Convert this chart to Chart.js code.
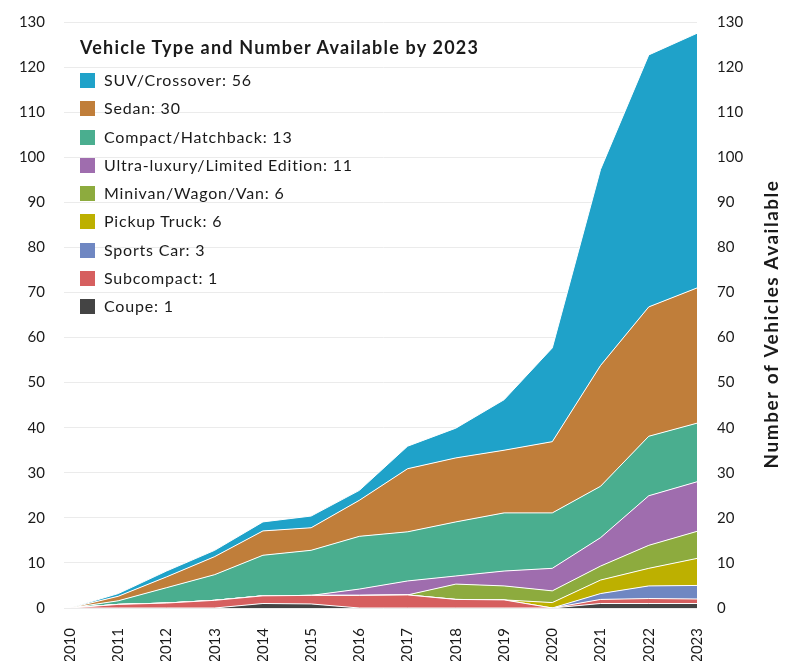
<!DOCTYPE html>
<html>
<head>
<meta charset="utf-8">
<script src="https://cdn.jsdelivr.net/npm/chart.js@4.4.0/dist/chart.umd.min.js"></script>
<style>
    body { margin: 0; background: #ffffff; font-family: Lato, sans-serif; }
    #wrap { position: relative; width: 794px; height: 661px; }
    #leyenda { position: absolute; left: 80px; top: 0; color: #1a1a1a; }
    #leyenda .titulo { position: absolute; top: 35px; white-space: nowrap; font-weight: bold; font-size: 18px; letter-spacing: 1.2px; line-height: 24px; }
    #leyenda .item { position: absolute; left: 0; height: 28px; line-height: 28px; white-space: nowrap; font-size: 16px; letter-spacing: 0.8px; }
    #leyenda .caja { display: inline-block; width: 15px; height: 15px; vertical-align: -2px; margin-right: 9px; }
</style>
</head>
<body>
<div id="wrap">
    <canvas id="grafico" width="794" height="661"></canvas>
    <div id="leyenda"></div>
</div>
<script>
// Years on the x axis
const anios = ['2010', '2011', '2012', '2013', '2014', '2015', '2016',
               '2017', '2018', '2019', '2020', '2021', '2022', '2023'];

// Values per vehicle type (stacked from bottom to top)
const coupe      = [0, 0,   0,   0,   1.0, 0.9,  0,    0,    0,    0,    0,    1.0,  1.0,  1];
const subcompact = [0, 0.8, 1.1, 1.7, 1.7, 1.9,  2.8,  2.9,  1.9,  1.8,  0,    0.9,  1.1,  1];
const sportsCar  = [0, 0,   0,   0,   0,   0,    0,    0,    0,    0,    0,    1.3,  2.8,  3];
const pickup     = [0, 0,   0,   0,   0,   0,    0,    0,    0,    0,    1.2,  3.0,  3.9,  6];
const minivan    = [0, 0,   0,   0,   0,   0,    0,    0,    3.4,  3.1,  2.6,  3.1,  5.1,  6];
const ultraLujo  = [0, 0,   0,   0,   0,   0,    1.4,  3.1,  1.8,  3.3,  5.0,  6.3,  11.0, 11];
const compacto   = [0, 0.8, 3.4, 5.7, 9.0, 10.0, 11.7, 10.9, 12.0, 12.9, 12.3, 11.4, 13.2, 13];
const sedan      = [0, 1.0, 2.4, 4.0, 5.4, 5.0,  8.0,  14.0, 14.2, 13.9, 15.8, 26.8, 28.7, 30];
const suv        = [0, 0.6, 1.3, 1.4, 2.0, 2.6,  2.2,  5.0,  6.6,  11.2, 20.8, 43.5, 55.9, 56.5];

// Axis ticks
const ticksY = [0, 10, 20, 30, 40, 50, 60, 70, 80, 90, 100, 110, 120, 130];

const series = [
    { nombre: 'Coupe', datos: coupe, color: '#444444' },
    { nombre: 'Subcompact', datos: subcompact, color: '#d65f5f' },
    { nombre: 'Sports Car', datos: sportsCar, color: '#6f87c2' },
    { nombre: 'Pickup Truck', datos: pickup, color: '#bdb000' },
    { nombre: 'Minivan/Wagon/Van', datos: minivan, color: '#8dab3e' },
    { nombre: 'Ultra-luxury/Limited Edition', datos: ultraLujo, color: '#9f6dae' },
    { nombre: 'Compact/Hatchback', datos: compacto, color: '#4aae8f' },
    { nombre: 'Sedan', datos: sedan, color: '#c07e3a' },
    { nombre: 'SUV/Crossover', datos: suv, color: '#1fa2c9' }
];

// Number shown in the legend (vehicles available by 2023)
const totales2023 = [1, 1, 3, 6, 6, 11, 13, 30, 56];

const colorTexto = '#1a1a1a';
const fuenteTicks = { family: 'Lato', size: 15 };

// Right axis title, reading bottom to top
const tituloDerecho = {
    id: 'tituloDerecho',
    afterDraw(chart) {
        const ctx = chart.ctx;
        ctx.save();
        ctx.translate(772, 324);
        ctx.rotate(-Math.PI / 2);
        ctx.font = 'bold 19px Lato';
        ctx.letterSpacing = '1.5px';
        ctx.fillStyle = colorTexto;
        ctx.textAlign = 'center';
        ctx.textBaseline = 'middle';
        ctx.fillText('Number of Vehicles Available', 0, 0);
        ctx.restore();
    }
};

// Keep the big tick padding from pushing the plot down
function ajustarEje(ancho) {
    return (scale) => {
        scale.width = ancho;
        scale.paddingTop = 8;
        scale.paddingBottom = 8;
    };
}

const grafico = new Chart(document.getElementById('grafico'), {
    type: 'line',
    data: {
        labels: anios,
        datasets: series.map((s, i) => ({
            label: s.nombre,
            data: s.datos,
            backgroundColor: s.color,
            borderColor: '#ffffff',
            borderWidth: 1,
            pointRadius: 0,
            tension: 0,
            fill: i === 0 ? 'origin' : '-1'
        }))
    },
    options: {
        responsive: false,
        animation: false,
        layout: { padding: { top: 22, left: 0, right: 0, bottom: 0 } },
        plugins: {
            legend: { display: false },
            tooltip: { enabled: false }
        },
        scales: {
            x: {
                grid: { display: false },
                border: { display: false },
                ticks: {
                    color: colorTexto,
                    font: fuenteTicks,
                    minRotation: 90,
                    maxRotation: 90,
                    padding: 12,
                    autoSkip: false
                },
                afterFit: (scale) => { scale.height = 53; }
            },
            y: {
                stacked: true,
                min: 0,
                max: 130,
                position: 'left',
                border: { display: false },
                grid: { color: '#ebebeb', lineWidth: 1, drawTicks: true, tickLength: 6 },
                afterBuildTicks: (scale) => { scale.ticks = ticksY.map(v => ({ value: v })); },
                ticks: { color: colorTexto, font: fuenteTicks, padding: 19 },
                afterFit: ajustarEje(70)
            },
            yDerecha: {
                min: 0,
                max: 130,
                position: 'right',
                border: { display: false },
                grid: { display: false, drawTicks: false },
                afterBuildTicks: (scale) => { scale.ticks = ticksY.map(v => ({ value: v })); },
                ticks: { color: colorTexto, font: fuenteTicks, padding: 20 },
                afterFit: ajustarEje(97)
            }
        }
    },
    plugins: [tituloDerecho]
});

// Legend inside the plot, top type first
function crearLeyenda() {
    const cont = document.getElementById('leyenda');
    const titulo = document.createElement('div');
    titulo.className = 'titulo';
    titulo.textContent = 'Vehicle Type and Number Available by 2023';
    cont.appendChild(titulo);

    series.slice().reverse().forEach((s, i) => {
        const fila = document.createElement('div');
        fila.className = 'item';
        fila.style.top = (66 + i * 28.25) + 'px';
        const caja = document.createElement('span');
        caja.className = 'caja';
        caja.style.background = s.color;
        fila.appendChild(caja);
        const total = totales2023[series.length - 1 - i];
        fila.appendChild(document.createTextNode(`${s.nombre}: ${total}`));
        cont.appendChild(fila);
    });
}

crearLeyenda();
</script>
</body>
</html>
